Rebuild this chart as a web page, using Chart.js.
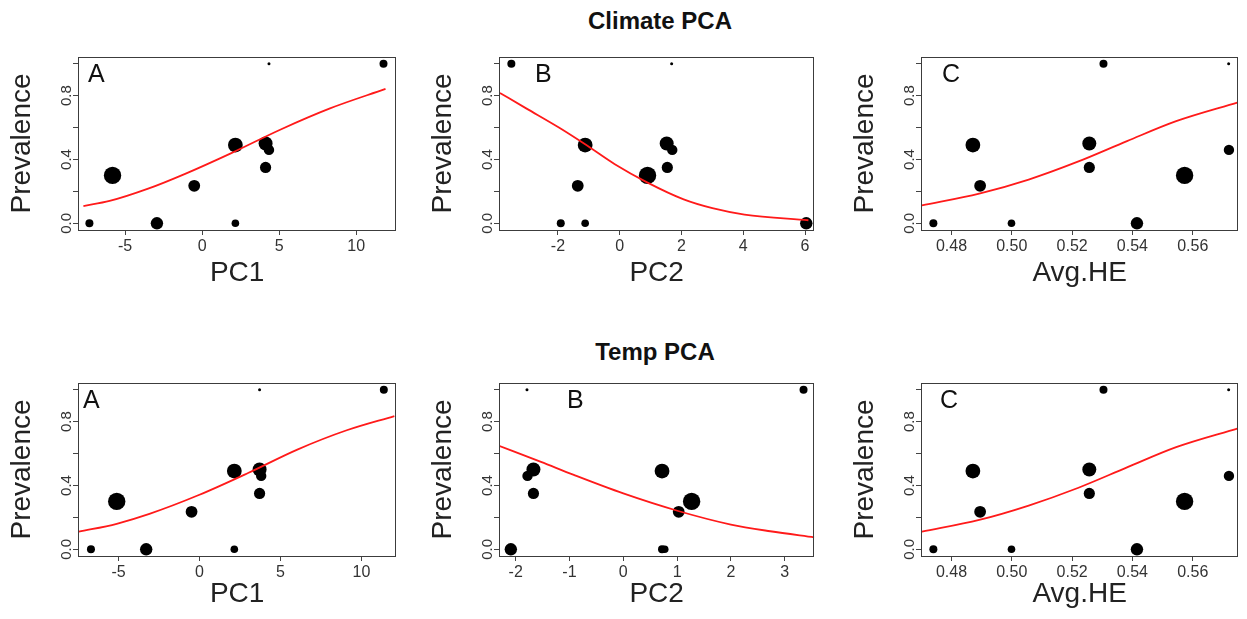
<!DOCTYPE html>
<html>
<head>
<meta charset="utf-8">
<script src="https://cdn.jsdelivr.net/npm/chart.js@4"></script>
<style>
  body { margin: 0; background: #fff; width: 1247px; height: 619px; position: relative; overflow: hidden;
         font-family: "Liberation Sans", Arial, sans-serif; }
  .ttl { position: absolute; font-weight: bold; font-size: 24px; line-height: 1; color: #111;
         transform: translateX(-50%); white-space: nowrap; }
  canvas { position: absolute; }
</style>
</head>
<body>
<div class="ttl" style="left:660px;top:9px">Climate PCA</div>
<div class="ttl" style="left:655px;top:340px">Temp PCA</div>
<script>
// prevalence per population (same 11 populations in every panel)
const prevalence = [0, 0.30, 0, 0.235, 0.49, 0, 0.50, 0.46, 0.35, 1.0, 1.0];

// predictor values per population
const climatePC1 = [-7.31, -5.81, -2.93, -0.51, 2.16, 2.16, 4.12, 4.34, 4.12, 11.77, 4.34];
const climatePC2 = [-1.91, 0.90, 6.04, -1.36, -1.12, -1.12, 1.52, 1.70, 1.54, -3.51, 1.68];
const avgHE = [0.474, 0.5573, 0.5415, 0.4895, 0.4871, 0.4999, 0.5257, 0.572, 0.5257, 0.5304, 0.5719];
const tempPC1 = [-6.70, -5.11, -3.29, -0.49, 2.15, 2.15, 3.71, 3.81, 3.71, 11.38, 3.71];
const tempPC2 = [0.72, 1.27, -2.09, 1.03, 0.72, 0.77, -1.67, -1.78, -1.67, 3.35, -1.79];

// fitted curves
const climatePC1CurveX = [-7.7, -6.0, -3.5, -1.1, 1.9, 5.1, 8.3, 11.9];
const climatePC1CurveY = [0.108, 0.14, 0.217, 0.31, 0.44, 0.588, 0.72, 0.842];
const climatePC2CurveX = [-3.88, -3.03, -1.97, -1.12, -0.16, 0.90, 2.07, 3.0, 4.04, 6.11];
const climatePC2CurveY = [0.817, 0.72, 0.60, 0.495, 0.37, 0.255, 0.15, 0.095, 0.055, 0.019];
const climateHECurveX = [0.4702, 0.4892, 0.5056, 0.5219, 0.5382, 0.5545, 0.5750];
const climateHECurveY = [0.112, 0.186, 0.274, 0.386, 0.515, 0.64, 0.758];
const tempPC1CurveX = [-7.45, -5.11, -3.09, -0.04, 3.0, 6.04, 9.09, 12.03];
const tempPC1CurveY = [0.11, 0.16, 0.222, 0.34, 0.478, 0.625, 0.746, 0.835];
const tempPC2CurveX = [-2.31, -1.53, -0.92, 0, 1.02, 2.0, 2.73, 3.55];
const tempPC2CurveY = [0.649, 0.548, 0.466, 0.35, 0.24, 0.155, 0.113, 0.075];
const tempHECurveX = [0.4702, 0.4892, 0.5056, 0.5219, 0.5382, 0.5545, 0.5750];
const tempHECurveY = [0.11, 0.184, 0.274, 0.384, 0.513, 0.64, 0.758];

// ticks
const pc1Ticks = [-5, 0, 5, 10];
const climatePC2Ticks = [-2, 0, 2, 4, 6];
const tempPC2Ticks = [-2, -1, 0, 1, 2, 3];
const heTicks = [0.48, 0.50, 0.52, 0.54, 0.56];
const heTickLabels = ['0.48', '0.50', '0.52', '0.54', '0.56'];
const yTicks = [0, 0.2, 0.4, 0.6, 0.8, 1.0];
const yTickLabels = ['0.0', '', '0.4', '', '0.8', ''];

// marker radius per population (style)
const pointRadius = [4, 8.7, 6.2, 5.9, 7.4, 3.8, 7, 5.2, 5.6, 4, 1.5];

const FONT = '"Liberation Sans", Arial, sans-serif';
Chart.defaults.font.family = FONT;

const panels = [
  { x: climatePC1, cx: climatePC1CurveX, cy: climatePC1CurveY, ticks: pc1Ticks, labels: null,
    min: -8.05, max: 12.6, xTitle: 'PC1', letter: 'A', letterDx: 10, box: { l: 78, t: 57, r: 401, b: 230 }, xAxisH: 60 },
  { x: climatePC2, cx: climatePC2CurveX, cy: climatePC2CurveY, ticks: climatePC2Ticks, labels: null,
    min: -3.91, max: 6.30, xTitle: 'PC2', letter: 'B', letterDx: 36, box: { l: 499, t: 57, r: 819, b: 230 }, xAxisH: 60 },
  { x: avgHE, cx: climateHECurveX, cy: climateHECurveY, ticks: heTicks, labels: heTickLabels,
    min: 0.4699, max: 0.5751, xTitle: 'Avg.HE', letter: 'C', letterDx: 21, box: { l: 921, t: 57, r: 1243, b: 230 }, xAxisH: 60 },
  { x: tempPC1, cx: tempPC1CurveX, cy: tempPC1CurveY, ticks: pc1Ticks, labels: null,
    min: -7.5, max: 12.15, xTitle: 'PC1', letter: 'A', letterDx: 5, box: { l: 78, t: 383, r: 401, b: 556 }, xAxisH: 55 },
  { x: tempPC2, cx: tempPC2CurveX, cy: tempPC2CurveY, ticks: tempPC2Ticks, labels: null,
    min: -2.31, max: 3.55, xTitle: 'PC2', letter: 'B', letterDx: 68, box: { l: 499, t: 383, r: 819, b: 556 }, xAxisH: 55 },
  { x: avgHE, cx: tempHECurveX, cy: tempHECurveY, ticks: heTicks, labels: heTickLabels,
    min: 0.4699, max: 0.5751, xTitle: 'Avg.HE', letter: 'C', letterDx: 19, box: { l: 921, t: 383, r: 1243, b: 556 }, xAxisH: 55 }
];

const Y_AXIS_W = 78, PAD_TOP = 10, PAD_RIGHT = 4;

// full R-style box around the plot region plus the panel letter
const boxPlugin = {
  id: 'rbox',
  afterDraw(chart, args, opts) {
    const { ctx, chartArea: a } = chart;
    ctx.save();
    ctx.strokeStyle = '#3c3c3c';
    ctx.lineWidth = 1;
    ctx.strokeRect(Math.round(a.left) + 0.5, Math.round(a.top) + 0.5,
                   Math.round(a.right - a.left) - 1, Math.round(a.bottom - a.top));
    ctx.font = '25px ' + FONT;
    ctx.fillStyle = '#111';
    ctx.textBaseline = 'alphabetic';
    ctx.fillText(opts.letter, a.left + opts.dx, a.top + 25);
    ctx.restore();
  }
};

panels.forEach(p => {
  const c = document.createElement('canvas');
  const w = p.box.r - p.box.l + Y_AXIS_W + PAD_RIGHT;
  const h = p.box.b - p.box.t + PAD_TOP + p.xAxisH;
  c.width = w; c.height = h;
  c.style.left = (p.box.l - Y_AXIS_W) + 'px';
  c.style.top = (p.box.t - PAD_TOP) + 'px';
  c.style.width = w + 'px'; c.style.height = h + 'px';
  document.body.appendChild(c);

  new Chart(c, {
    type: 'scatter',
    data: {
      datasets: [
        {
          data: p.cx.map((v, i) => ({ x: v, y: p.cy[i] })),
          showLine: true,
          borderColor: '#ff1a1a',
          borderWidth: 1.8,
          pointRadius: 0,
          cubicInterpolationMode: 'monotone',
          order: 0
        },
        {
          data: p.x.map((v, i) => ({ x: v, y: prevalence[i] })),
          pointRadius: pointRadius,
          backgroundColor: '#000',
          borderWidth: 0,
          order: 1
        }
      ]
    },
    options: {
      responsive: false,
      animation: false,
      devicePixelRatio: 1,
      layout: { padding: { top: PAD_TOP, right: PAD_RIGHT, left: 0, bottom: 0 } },
      plugins: {
        legend: { display: false },
        tooltip: { enabled: false },
        rbox: { letter: p.letter, dx: p.letterDx }
      },
      scales: {
        x: {
          type: 'linear',
          position: 'bottom',
          min: p.min, max: p.max,
          afterBuildTicks: s => { s.ticks = p.ticks.map(v => ({ value: v })); },
          afterFit: s => { s.height = p.xAxisH; },
          ticks: {
            autoSkip: false, maxRotation: 0, minRotation: 0, padding: 2,
            color: '#333', font: { size: 16 },
            callback: (v, i) => p.labels ? p.labels[i] : String(p.ticks[i])
          },
          grid: { drawOnChartArea: false, drawTicks: true, tickLength: 5, tickColor: '#444' },
          border: { display: false },
          title: { display: true, text: p.xTitle, color: '#222', font: { size: 28 }, padding: { top: 0, bottom: 0 } }
        },
        y: {
          type: 'linear',
          position: 'left',
          min: -0.042, max: 1.042,
          afterBuildTicks: s => { s.ticks = yTicks.map(v => ({ value: v })); },
          afterFit: s => { s.width = Y_AXIS_W; },
          ticks: {
            autoSkip: false, minRotation: 90, maxRotation: 90, crossAlign: 'center', padding: -4,
            color: '#333', font: { size: 15 },
            callback: (v, i) => yTickLabels[i]
          },
          grid: { drawOnChartArea: false, drawTicks: true, tickLength: 5, tickColor: '#444' },
          border: { display: false },
          title: { display: true, text: 'Prevalence', color: '#222', font: { size: 28 }, padding: { top: 5, bottom: 0 } }
        }
      }
    },
    plugins: [boxPlugin]
  });
});
</script>
</body>
</html>
